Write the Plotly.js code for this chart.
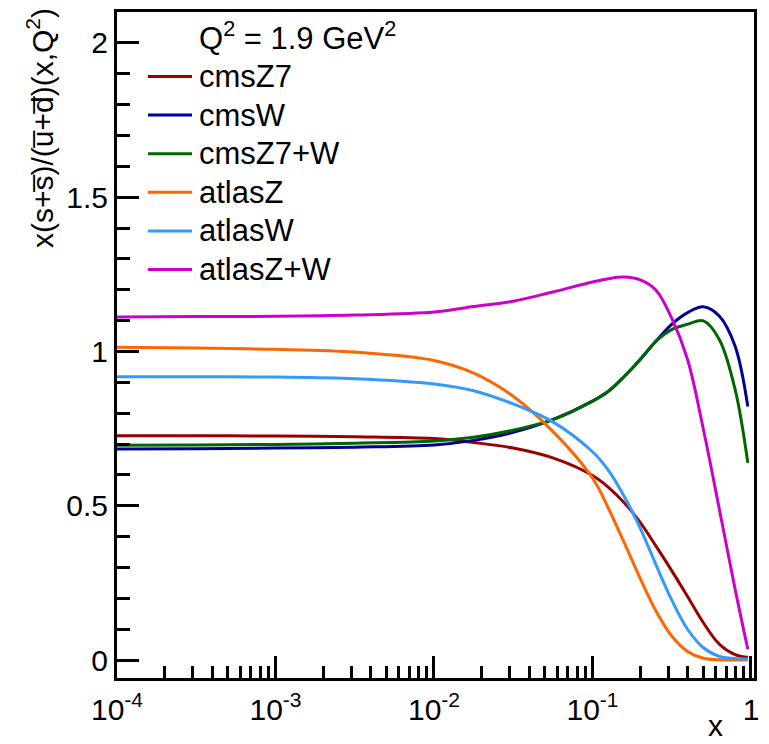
<!DOCTYPE html>
<html>
<head>
<meta charset="utf-8">
<script src="https://cdn.plot.ly/plotly-3.0.1.min.js"></script>
<style>html,body{margin:0;padding:0;background:#fff;}#chart{width:769px;height:744px;}</style>
</head>
<body>
<div id="chart"></div>
<script>
// ---- data ----
var xValues = [0.0001, 0.000316, 0.001, 0.00316, 0.01, 0.0178, 0.0316, 0.0562, 0.1, 0.126, 0.158, 0.2, 0.251, 0.316, 0.398, 0.501, 0.631, 0.794, 0.955];

var cmsZ7   = [0.727, 0.727, 0.726, 0.724, 0.718, 0.705, 0.687, 0.655, 0.598, 0.560, 0.511, 0.446, 0.370, 0.290, 0.206, 0.121, 0.052, 0.018, 0.009];
var cmsW    = [0.684, 0.685, 0.687, 0.690, 0.697, 0.712, 0.738, 0.779, 0.839, 0.871, 0.918, 0.974, 1.033, 1.088, 1.126, 1.145, 1.115, 1.017, 0.822];
var cmsZ7W  = [0.696, 0.697, 0.699, 0.703, 0.710, 0.722, 0.745, 0.779, 0.839, 0.871, 0.918, 0.974, 1.033, 1.071, 1.088, 1.099, 1.039, 0.877, 0.639];
var atlasZ  = [1.014, 1.011, 1.007, 0.998, 0.971, 0.930, 0.855, 0.741, 0.590, 0.492, 0.382, 0.265, 0.160, 0.078, 0.028, 0.006, 0.001, 0.000, 0.000];
var atlasW  = [0.918, 0.918, 0.917, 0.912, 0.895, 0.873, 0.830, 0.772, 0.675, 0.615, 0.532, 0.428, 0.310, 0.195, 0.100, 0.040, 0.012, 0.005, 0.003];
var atlasZW = [1.112, 1.113, 1.114, 1.118, 1.128, 1.146, 1.163, 1.193, 1.225, 1.236, 1.241, 1.232, 1.199, 1.108, 0.974, 0.747, 0.490, 0.230, 0.035];

var seriesNames  = ['cmsZ7', 'cmsW', 'cmsZ7+W', 'atlasZ', 'atlasW', 'atlasZ+W'];
var seriesValues = [cmsZ7, cmsW, cmsZ7W, atlasZ, atlasW, atlasZW];
var seriesColors = ['#990000', '#000099', '#006600', '#ff6600', '#3399ff', '#cc00cc'];

var xTickVals  = [0.0001, 0.001, 0.01, 0.1, 1];
var xTickText  = ['10<sup>-4</sup>', '10<sup>-3</sup>', '10<sup>-2</sup>', '10<sup>-1</sup>', '1'];
var yTickVals  = [0, 0.5, 1, 1.5, 2];

var headerText = 'Q<sup>2</sup> = 1.9 GeV<sup>2</sup>';
var yTitleText = 'x(s+s\u0305)/(u\u0305+d\u0305)(x,Q<sup>2</sup>)';
var xTitleText = 'x';

// ---- layout geometry (pixels) ----
var W = 769, H = 744;
var L = 117, R = 754, T = 12, B = 678;
function PX(px) { return (px - L) / (R - L); }
function PY(py) { return (B - py) / (B - T); }

var FONT = 'Liberation Sans, Arial, Helvetica, sans-serif';

var minorX = [];
[0.0001, 0.001, 0.01, 0.1].forEach(function (d) {
  for (var k = 2; k <= 9; k++) minorX.push(+(d * k).toPrecision(3));
});

var traces = seriesNames.map(function (name, i) {
  return {
    type: 'scatter', mode: 'lines', name: name,
    x: xValues, y: seriesValues[i],
    line: { color: seriesColors[i], width: 3, shape: 'spline', smoothing: 1 },
    showlegend: false, hoverinfo: 'x+y+name'
  };
});

var shapes = [];
var annotations = [];
var legendTop = 76.5, legendStep = 38.6;
seriesNames.forEach(function (name, i) {
  var cy = legendTop + i * legendStep;
  shapes.push({
    type: 'line', xref: 'paper', yref: 'paper',
    x0: PX(148), x1: PX(192), y0: PY(cy), y1: PY(cy),
    line: { color: seriesColors[i], width: 3 }
  });
  annotations.push({
    xref: 'paper', yref: 'paper', x: PX(197), y: PY(cy),
    xanchor: 'left', yanchor: 'middle', showarrow: false,
    text: name, font: { family: FONT, size: 31, color: '#000' }
  });
});
annotations.push({
  xref: 'paper', yref: 'paper', x: PX(197), y: PY(36),
  xanchor: 'left', yanchor: 'middle', showarrow: false,
  text: headerText, font: { family: FONT, size: 31, color: '#000' }
});
annotations.push({
  xref: 'paper', yref: 'paper', x: PX(40), y: PY(6),
  xanchor: 'center', yanchor: 'top', showarrow: false, textangle: -90,
  text: yTitleText, font: { family: FONT, size: 30, color: '#000' }
});
annotations.push({
  xref: 'paper', yref: 'paper', x: PX(724), y: PY(743),
  xanchor: 'right', yanchor: 'bottom', showarrow: false, borderpad: 0,
  text: xTitleText, font: { family: FONT, size: 30, color: '#000' }
});

var layout = {
  width: W, height: H,
  margin: { l: L, r: W - R, t: T, b: H - B, pad: 0 },
  paper_bgcolor: '#fff', plot_bgcolor: '#fff',
  showlegend: false,
  font: { family: FONT, size: 30, color: '#000' },
  xaxis: {
    type: 'log', range: [-4, 0.019],
    tickmode: 'array', tickvals: xTickVals, ticktext: xTickText,
    ticks: 'inside', ticklen: 22, tickwidth: 3, tickcolor: '#000',
    ticklabelstandoff: 3,
    minor: { tickmode: 'array', tickvals: minorX, ticks: 'inside', ticklen: 12, tickwidth: 3, tickcolor: '#000' },
    showline: true, linecolor: '#000', linewidth: 3, mirror: true,
    showgrid: false, zeroline: false,
    tickfont: { family: FONT, size: 30, color: '#000' }
  },
  yaxis: {
    range: [-0.058, 2.1],
    tickmode: 'array', tickvals: yTickVals,
    ticks: 'inside', ticklen: 22, tickwidth: 3, tickcolor: '#000',
    minor: { dtick: 0.1, ticks: 'inside', ticklen: 13, tickwidth: 3, tickcolor: '#000' },
    showline: true, linecolor: '#000', linewidth: 3, mirror: true,
    showgrid: false, zeroline: false,
    tickfont: { family: FONT, size: 30, color: '#000' }
  },
  shapes: shapes,
  annotations: annotations
};

Plotly.newPlot('chart', traces, layout, { displayModeBar: false, staticPlot: true });
</script>
</body>
</html>
